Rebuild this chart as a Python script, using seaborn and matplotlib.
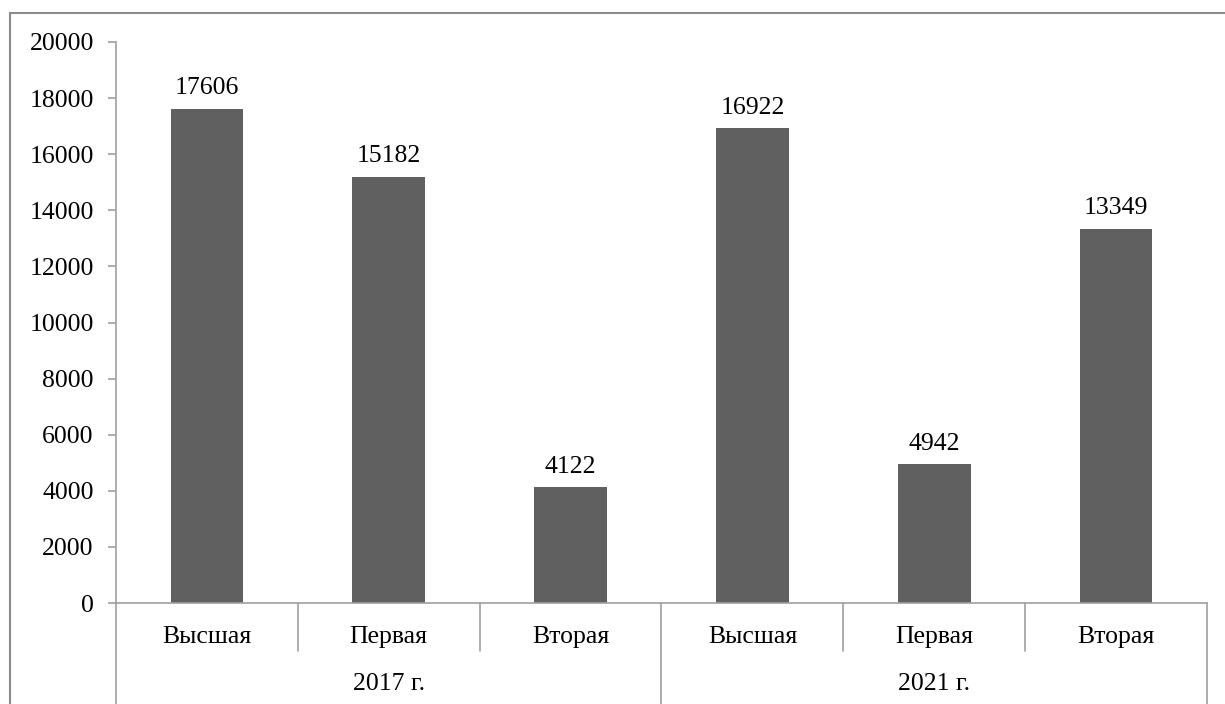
import matplotlib
matplotlib.use("Agg")
import matplotlib.pyplot as plt
import matplotlib.transforms as mtransforms
from matplotlib.patches import Rectangle
import seaborn as sns
import pandas as pd

years = ["2017 г.", "2021 г."]
categories = ["Высшая", "Первая", "Вторая"]
values_2017 = [17606, 15182, 4122]
values_2021 = [16922, 4942, 13349]
yticks = list(range(0, 20001, 2000))

rows = []
for yr, vals in zip(years, [values_2017, values_2021]):
    for c, v in zip(categories, vals):
        rows.append({"key": f"{yr}|{c}", "year": yr, "cat": c, "value": v})
df = pd.DataFrame(rows)

sns.set_theme(style="white")
plt.rcParams["font.family"] = ["Liberation Serif", "DejaVu Serif"]

FS = 18.5
W, H = 1225, 704
fig = plt.figure(figsize=(W / 100, H / 100), dpi=100)
fig.patch.set_facecolor("white")

# outer chart border
fig.add_artist(Rectangle((10 / W, -0.01), (W - 10) / W + 0.01, (H - 13) / H + 0.01,
                         transform=fig.transFigure, fill=False,
                         edgecolor="#8c8c8c", linewidth=1.5))

x0, x1, yb, yt = 116, 1207, 603, 42
ax = fig.add_axes([x0 / W, (H - yb) / H, (x1 - x0) / W, (yb - yt) / H])

sns.barplot(data=df, x="key", y="value", color="#606060", saturation=1,
            width=0.4, ax=ax, edgecolor="none")
for cont in ax.containers:
    ax.bar_label(cont, labels=[str(int(v)) for v in df["value"]], padding=7,
                 fontsize=FS, color="black")

ax.set_xlim(-0.5, len(df) - 0.5)
ax.set_ylim(0, 20000)
ax.set_yticks(yticks)
ax.set_yticklabels([str(t) for t in yticks], fontsize=FS, color="black")
ax.set_xticks([])
ax.set_xlabel("")
ax.set_ylabel("")
for s in ["top", "right"]:
    ax.spines[s].set_visible(False)
for s in ["left", "bottom"]:
    ax.spines[s].set_color("#a0a0a0")
    ax.spines[s].set_linewidth(1.2)
ax.tick_params(axis="y", direction="out", length=6, width=1.2, color="#a0a0a0",
               left=True, pad=10)

trans = mtransforms.blended_transform_factory(ax.transData, ax.transAxes)
ax_h = yb - yt
lvl1 = -(651 - yb) / ax_h
lvl2 = -(706 - yb) / ax_h
lab1 = -(637 - yb) / ax_h
lab2 = -(684 - yb) / ax_h

n = len(df)
for i in range(n + 1):
    xpos = i - 0.5
    bottom = lvl2 if i % len(categories) == 0 else lvl1
    ax.plot([xpos, xpos], [0, bottom], transform=trans, color="#a0a0a0",
            linewidth=1.2, clip_on=False)
for i, row in df.iterrows():
    ax.text(i, lab1, row["cat"], transform=trans, ha="center", va="center",
            fontsize=FS, color="black")
for g, yr in enumerate(years):
    center = g * len(categories) + (len(categories) - 1) / 2
    ax.text(center, lab2, yr, transform=trans, ha="center", va="center",
            fontsize=FS, color="black")

fig.savefig("out.png", dpi=100, facecolor="white")
